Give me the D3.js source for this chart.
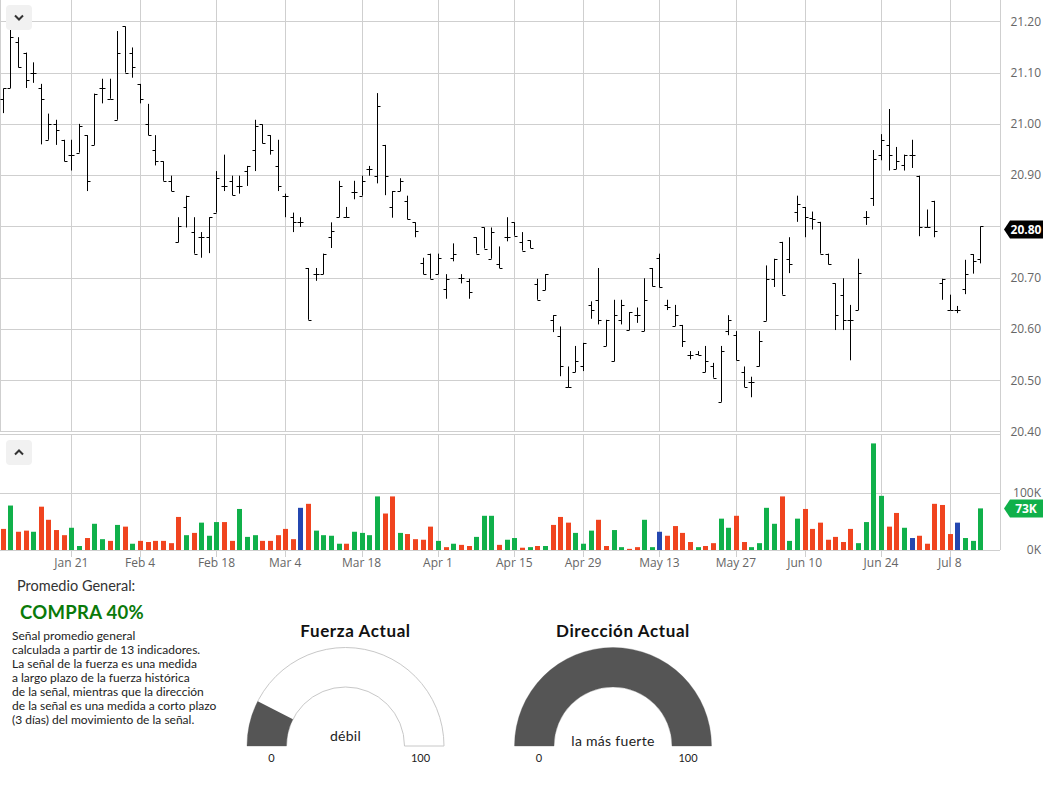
<!DOCTYPE html>
<html>
<head>
<meta charset="utf-8">
<script src="https://cdn.jsdelivr.net/npm/d3@7"></script>
<style>
  body { margin: 0; background: #fff; }
  text { font-family: "Open Sans", sans-serif; }
  .gtext { font-family: Lato, "Noto Sans", sans-serif; }
</style>
</head>
<body>
<div id="chart"></div>
<script>
// trading calendar (NYSE 2019)
var startDate = "2019-01-08", endDate = "2019-07-12";
var holidays = ["2019-01-21", "2019-02-18", "2019-04-19", "2019-05-27", "2019-07-04"];
var tickDates = ["2019-01-21", "2019-02-04", "2019-02-18", "2019-03-04", "2019-03-18", "2019-04-01", "2019-04-15",
  "2019-04-29", "2019-05-13", "2019-05-27", "2019-06-10", "2019-06-24", "2019-07-08"];
var tickLabels = ["Jan 21", "Feb 4", "Feb 18", "Mar 4", "Mar 18", "Apr 1", "Apr 15",
  "Apr 29", "May 13", "May 27", "Jun 10", "Jun 24", "Jul 8"];

// OHLC values
var opens = [21.049,21.07,21.159,21.139,21.10,21.07,20.969,20.999,20.969,20.94,20.944,20.978,20.959,21.069,21.049,21.008,21.19,21.139,21.078,20.999,
  20.949,20.927,20.889,20.769,20.837,20.789,20.779,20.779,20.827,20.879,20.889,20.879,20.908,20.949,20.999,20.978,20.918,20.86,20.818,20.808,
  20.719,20.707,20.707,20.779,20.818,20.818,20.868,20.86,20.912,20.899,20.959,20.838,20.869,20.85,20.808,20.729,20.747,20.707,20.678,20.739,
  20.699,20.693,20.779,20.798,20.737,20.727,20.779,20.808,20.77,20.773,20.688,20.676,20.618,20.586,20.486,20.516,20.527,20.647,20.657,20.567,
  20.537,20.618,20.598,20.627,20.596,20.719,20.739,20.647,20.606,20.608,20.549,20.552,20.516,20.527,20.458,20.596,20.588,20.516,20.497,20.527,
  20.616,20.698,20.77,20.737,20.829,20.838,20.817,20.809,20.747,20.689,20.667,20.618,20.637,20.818,20.855,20.94,20.959,20.912,20.92,20.94,
  20.899,20.798,20.85,20.689,20.637,20.637,20.678,20.746,20.737];
var highs = [21.069,21.22,21.169,21.139,21.12,21.078,21.02,21.008,20.969,20.969,21.0,20.978,21.059,21.088,21.088,21.181,21.19,21.149,21.078,21.039,
  20.978,20.927,20.899,20.818,20.86,20.818,20.789,20.818,20.908,20.94,20.899,20.899,20.918,21.008,20.999,20.978,20.969,20.864,20.827,20.818,
  20.719,20.719,20.747,20.808,20.889,20.838,20.889,20.899,20.918,21.06,20.959,20.869,20.894,20.86,20.808,20.739,20.747,20.747,20.707,20.767,
  20.707,20.698,20.779,20.798,20.798,20.761,20.818,20.808,20.789,20.773,20.698,20.707,20.627,20.605,20.527,20.567,20.573,20.654,20.719,20.618,
  20.657,20.657,20.633,20.642,20.699,20.719,20.747,20.657,20.647,20.608,20.557,20.557,20.567,20.534,20.567,20.627,20.596,20.527,20.507,20.596,
  20.724,20.737,20.77,20.779,20.86,20.838,20.829,20.809,20.747,20.689,20.699,20.647,20.737,20.83,20.949,20.98,21.029,20.955,20.94,20.969,
  20.899,20.833,20.85,20.698,20.667,20.645,20.735,20.746,20.80];
var lows = [21.021,21.07,21.11,21.07,21.08,20.96,20.969,20.959,20.927,20.909,20.944,20.869,20.959,21.04,21.049,21.008,21.10,21.09,21.04,20.978,
  20.919,20.889,20.869,20.769,20.798,20.747,20.739,20.748,20.827,20.869,20.861,20.864,20.879,20.908,20.962,20.94,20.869,20.818,20.789,20.799,
  20.618,20.694,20.707,20.758,20.818,20.818,20.853,20.86,20.899,20.884,20.861,20.817,20.869,20.814,20.779,20.707,20.698,20.707,20.659,20.732,
  20.689,20.659,20.747,20.757,20.737,20.719,20.771,20.782,20.753,20.758,20.657,20.676,20.594,20.508,20.486,20.516,20.518,20.62,20.609,20.567,
  20.537,20.609,20.598,20.612,20.596,20.683,20.681,20.637,20.606,20.565,20.541,20.549,20.516,20.505,20.458,20.588,20.539,20.487,20.467,20.527,
  20.616,20.682,20.667,20.709,20.809,20.779,20.794,20.747,20.726,20.598,20.598,20.539,20.637,20.803,20.84,20.929,20.909,20.912,20.909,20.914,
  20.781,20.798,20.779,20.657,20.637,20.631,20.668,20.708,20.728];
var closes = [21.069,21.17,21.11,21.085,21.10,21.049,20.999,20.988,20.927,20.94,20.995,20.889,21.059,21.069,21.049,21.139,21.10,21.11,21.049,20.978,
  20.927,20.889,20.869,20.80,20.86,20.747,20.779,20.818,20.894,20.879,20.861,20.879,20.918,20.995,20.962,20.949,20.879,20.86,20.808,20.808,
  20.618,20.707,20.747,20.792,20.879,20.818,20.868,20.889,20.912,21.034,20.899,20.869,20.889,20.814,20.792,20.707,20.698,20.739,20.698,20.747,
  20.699,20.673,20.747,20.757,20.789,20.719,20.779,20.782,20.753,20.758,20.657,20.707,20.627,20.527,20.486,20.537,20.573,20.637,20.618,20.618,
  20.627,20.647,20.633,20.627,20.657,20.683,20.681,20.642,20.627,20.576,20.549,20.549,20.537,20.505,20.557,20.618,20.539,20.487,20.497,20.576,
  20.698,20.737,20.667,20.727,20.843,20.818,20.814,20.747,20.726,20.627,20.618,20.618,20.709,20.818,20.931,20.969,20.94,20.928,20.94,20.94,
  20.798,20.798,20.792,20.698,20.637,20.637,20.707,20.732,20.80];

// volume in thousands, u = up, d = down, f = flat
var volumes = [37,78,32,34,32,76,53,35,26,39,7,21,46,19,16,44,41,11,16,14,
  16,16,12,58,26,30,48,25,49,49,16,72,23,26,16,16,26,37,19,74,
  81,34,26,25,11,11,32,30,26,94,64,94,30,28,19,18,41,16,5,11,
  9,7,23,60,60,9,18,21,4,5,7,7,44,58,48,30,11,34,53,7,
  35,5,2,5,53,5,32,25,42,30,14,5,7,12,55,39,60,14,5,12,
  74,46,94,16,55,72,37,48,18,23,14,37,12,49,187,95,41,65,39,21,
  25,11,81,79,28,48,21,16,73];
var volDir = ["d","u","d","d","u","d","d","d","d","u","u","d","u","u","d","u","d","u","d","d",
  "d","d","d","d","u","d","u","u","u","d","d","u","u","u","d","d","d","d","d","f",
  "d","u","u","u","u","d","u","u","u","u","d","d","u","d","d","d","d","u","d","u",
  "d","d","u","u","u","d","u","u","d","u","d","u","d","d","d","u","u","u","d","d",
  "u","u","d","d","u","u","f","d","d","d","d","u","d","d","u","u","d","d","u","u",
  "u","u","d","u","u","d","d","d","d","d","d","d","u","u","u","u","d","d","u","f",
  "d","d","d","d","d","f","u","u","u"];

var priceTicks = [20.4, 20.5, 20.6, 20.7, 20.8, 20.9, 21.0, 21.1, 21.2];
var volTicks = [0, 100];

var fuerzaValue = 15, direccionValue = 100;
var resumenLines = ["Señal promedio general", "calculada a partir de 13 indicadores.",
  "La señal de la fuerza es una medida", "a largo plazo de la fuerza histórica",
  "de la señal, mientras que la dirección", "de la señal es una medida a corto plazo",
  "(3 días) del movimiento de la señal."];

var width = 1048, height = 787;
var plotRight = 1000;
var colors = { u: "#10b04a", d: "#f0441f", f: "#2447b0" };

var svg = d3.select("#chart").append("svg")
  .attr("width", width).attr("height", height);

// build trading days
var parse = d3.timeParse("%Y-%m-%d"), fmt = d3.timeFormat("%Y-%m-%d");
var days = d3.timeDays(parse(startDate), d3.timeDay.offset(parse(endDate), 1))
  .filter(function (d) { return d.getDay() > 0 && d.getDay() < 6 && holidays.indexOf(fmt(d)) < 0; })
  .map(fmt);

var x = d3.scalePoint().domain(days).range([2.6, 980.3]);
var y = d3.scaleLinear().domain([20.4, 21.2]).range([431.6, 21.3]);
var yv = d3.scaleLinear().domain([0, 100]).range([550, 493]);

// tick positions = first trading day on/after the tick date
var tickDays = tickDates.map(function (t) {
  return days.find(function (d) { return d >= t; });
});

function px(v) { return Math.round(v) + 0.5; }

var grid = svg.append("g").attr("stroke", "#cfcfcf").attr("stroke-width", 1);
// horizontal grid, price pane
grid.selectAll(".hp").data(priceTicks.slice(1)).enter().append("line")
  .attr("x1", 0).attr("x2", plotRight)
  .attr("y1", function (d) { return px(y(d)); }).attr("y2", function (d) { return px(y(d)); });
// vertical grid
grid.selectAll(".vp").data(tickDays).enter().append("line")
  .attr("x1", function (d) { return px(x(d)); }).attr("x2", function (d) { return px(x(d)); })
  .attr("y1", 0).attr("y2", 431);
grid.selectAll(".vv").data(tickDays).enter().append("line")
  .attr("x1", function (d) { return px(x(d)); }).attr("x2", function (d) { return px(x(d)); })
  .attr("y1", 434).attr("y2", 557);
// pane borders
grid.append("line").attr("x1", 0.5).attr("x2", 0.5).attr("y1", 0).attr("y2", 431);
grid.append("line").attr("x1", plotRight + 0.5).attr("x2", plotRight + 0.5).attr("y1", 0).attr("y2", 550);
grid.append("line").attr("x1", 0).attr("x2", plotRight).attr("y1", 431.5).attr("y2", 431.5);
grid.append("line").attr("x1", 0).attr("x2", plotRight).attr("y1", 434.5).attr("y2", 434.5);
grid.selectAll(".hv").data(volTicks).enter().append("line")
  .attr("x1", 0).attr("x2", plotRight)
  .attr("y1", function (d) { return px(yv(d)); }).attr("y2", function (d) { return px(yv(d)); });

// OHLC bars
var bars = svg.append("g").attr("stroke", "#000").attr("stroke-width", 1);
var ohlc = days.map(function (d, i) {
  return { day: d, o: opens[i], h: highs[i], l: lows[i], c: closes[i], v: volumes[i], dir: volDir[i] };
});
ohlc.forEach(function (d) {
  var cx = px(x(d.day));
  bars.append("line").attr("x1", cx).attr("x2", cx).attr("y1", y(d.h)).attr("y2", y(d.l));
  bars.append("line").attr("x1", cx - 3).attr("x2", cx).attr("y1", px(y(d.o))).attr("y2", px(y(d.o)));
  bars.append("line").attr("x1", cx).attr("x2", cx + 3).attr("y1", px(y(d.c))).attr("y2", px(y(d.c)));
});

// volume bars
svg.append("g").selectAll("rect").data(ohlc).enter().append("rect")
  .attr("x", function (d) { return Math.round(x(d.day)) - 2; })
  .attr("width", 5)
  .attr("y", function (d) { return yv(d.v); })
  .attr("height", function (d) { return yv(0) - yv(d.v); })
  .style("fill", function (d) { return colors[d.dir]; });

// last value marker positions
var lastClose = closes[closes.length - 1], lastVol = volumes[volumes.length - 1];
var priceMarkY = y(lastClose) + 3, volMarkY = yv(lastVol);

// right axis labels (the marker covers the label it sits on)
svg.append("g").selectAll("text")
  .data(priceTicks.filter(function (d) { return Math.abs(y(d) - priceMarkY) > 12; }))
  .enter().append("text")
  .attr("x", 1041).attr("y", function (d) { return y(d); }).attr("dy", "0.35em")
  .style("text-anchor", "end").style("font-size", "12px").style("fill", "#666")
  .text(d3.format(".2f"));
svg.append("g").selectAll("text").data(volTicks).enter().append("text")
  .attr("x", 1041).attr("y", function (d) { return yv(d); }).attr("dy", "0.35em")
  .style("text-anchor", "end").style("font-size", "12px").style("fill", "#666")
  .text(function (d) { return d + "K"; });

function marker(cy, fill, label) {
  svg.append("path")
    .attr("d", "M1004," + cy + " L1010," + (cy - 9) + " L1043," + (cy - 9) + " L1043," + (cy + 9) + " L1010," + (cy + 9) + " Z")
    .style("fill", fill);
  svg.append("text").attr("x", 1026).attr("y", cy).attr("dy", "0.35em")
    .style("text-anchor", "middle").style("font-size", "12px").style("font-weight", "bold").style("fill", "#fff")
    .text(label);
}
marker(priceMarkY, "#000", d3.format(".2f")(lastClose));
marker(volMarkY, "#10b04a", lastVol + "K");

// x axis labels
svg.append("g").selectAll("text").data(tickDays).enter().append("text")
  .attr("x", function (d) { return x(d); }).attr("y", 563).attr("dy", "0.35em")
  .style("text-anchor", "middle").style("font-size", "12px").style("fill", "#666")
  .text(function (d, i) { return tickLabels[i]; });

// collapse buttons
function button(by, up) {
  svg.append("rect").attr("x", 6).attr("y", by).attr("width", 26).attr("height", 25).attr("rx", 4)
    .style("fill", "#f1f1f1");
  var cy = by + 12.5;
  svg.append("path")
    .attr("d", up ? "M15," + (cy + 2) + " l4,-4 l4,4" : "M15," + (cy - 2) + " l4,4 l4,-4")
    .style("fill", "none").style("stroke", "#333").style("stroke-width", 2);
}
button(5, false);
button(440, true);

// summary text
svg.append("text").attr("class", "gtext").attr("x", 17).attr("y", 591)
  .style("font-size", "14.5px").style("fill", "#333").text("Promedio General:");
svg.append("text").attr("class", "gtext").attr("x", 20).attr("y", 619)
  .style("font-size", "18.5px").style("font-weight", "bold").style("letter-spacing", "0.3px")
  .style("fill", "#0a7a0a").text("COMPRA 40%");
svg.append("g").selectAll("text").data(resumenLines).enter().append("text")
  .attr("class", "gtext").attr("x", 12).attr("y", function (d, i) { return 640 + i * 14; })
  .style("font-size", "12px").style("fill", "#222").text(function (d) { return d; });

// gauges
var arc = d3.arc().innerRadius(59).outerRadius(98.5);
function gauge(cx, value, title, label, labelY) {
  var g = svg.append("g").attr("transform", "translate(" + cx + ",746)");
  g.append("path")
    .attr("d", arc({ startAngle: -Math.PI / 2, endAngle: Math.PI / 2 }))
    .style("fill", "#fff").style("stroke", "#c8c8c8");
  g.append("path")
    .attr("d", arc({ startAngle: -Math.PI / 2, endAngle: -Math.PI / 2 + Math.PI * value / 100 }))
    .style("fill", "#555");
  g.append("text").attr("class", "gtext").attr("x", 10).attr("y", -109)
    .style("text-anchor", "middle").style("font-size", "17px").style("font-weight", "bold")
    .style("letter-spacing", "0.6px").style("fill", "#111")
    .text(title);
  g.append("text").attr("class", "gtext").attr("x", 0).attr("y", labelY)
    .style("text-anchor", "middle").style("font-size", "14px").style("letter-spacing", "0.3px")
    .style("fill", "#222").text(label);
  g.append("text").attr("class", "gtext").attr("x", -74).attr("y", 16)
    .style("text-anchor", "middle").style("font-size", "11px").style("fill", "#222").text("0");
  g.append("text").attr("class", "gtext").attr("x", 75).attr("y", 16)
    .style("text-anchor", "middle").style("font-size", "11px").style("fill", "#222").text("100");
}
gauge(345.5, fuerzaValue, "Fuerza Actual", "débil", -5);
gauge(613, direccionValue, "Dirección Actual", "la más fuerte", 0);
</script>
</body>
</html>
